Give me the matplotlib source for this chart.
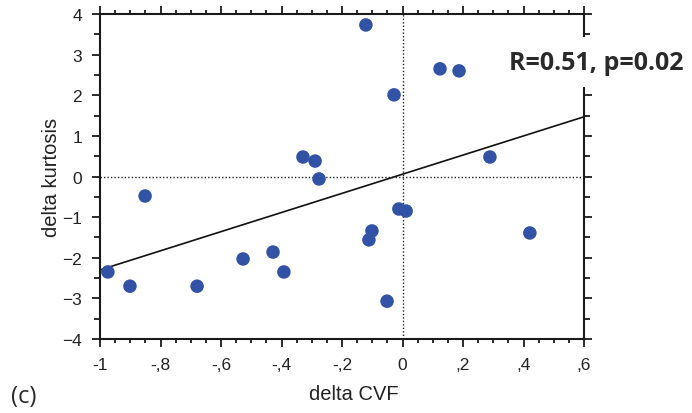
import numpy as np
import matplotlib
matplotlib.use("Agg")
import matplotlib.pyplot as plt
from matplotlib.ticker import MultipleLocator, FixedLocator

# delta CVF / delta kurtosis
delta_cvf = [-0.974, -0.901, -0.851, -0.679, -0.527, -0.428, -0.392, -0.329, -0.289,
             -0.276, -0.121, -0.101, -0.111, -0.051, -0.028, -0.012, 0.012, 0.124,
             0.187, 0.289, 0.421]
delta_kurt = [-2.35, -2.70, -0.48, -2.70, -2.03, -1.86, -2.35, 0.48, 0.38,
              -0.06, 3.73, -1.34, -1.56, -3.07, 2.01, -0.80, -0.85, 2.65,
              2.60, 0.48, -1.39]

# regression line end points
fit_x = [-1.0, 0.6]
fit_y = [-2.30, 1.47]

x_ticks = [-1, -0.8, -0.6, -0.4, -0.2, 0, 0.2, 0.4, 0.6]
x_ticklabels = ["-1", "-,8", "-,6", "-,4", "-,2", "0", ",2", ",4", ",6"]
y_ticks = [-4, -3, -2, -1, 0, 1, 2, 3, 4]
stat_text = "R=0.51, p=0.02"

plt.rcParams['font.family'] = ['Liberation Sans', 'DejaVu Sans']

fig = plt.figure(figsize=(6.92, 4.14), dpi=100)
ax = fig.add_axes([100 / 692, 74 / 414, 484 / 692, 325 / 414])

ax.axhline(0, color='#222222', lw=1.0, ls=(0, (1, 1.5)), zorder=1)
ax.axvline(0, color='#222222', lw=1.0, ls=(0, (1, 1.5)), zorder=1)
ax.plot(fit_x, fit_y, color='#111111', lw=1.2, zorder=2)
ax.scatter(delta_cvf, delta_kurt, s=95, color='#3253a5', edgecolors='none', zorder=3)

ax.set_xlim(-1, 0.6)
ax.set_ylim(-4, 4)
ax.xaxis.set_major_locator(FixedLocator(x_ticks))
ax.set_xticklabels(x_ticklabels)
ax.xaxis.set_minor_locator(MultipleLocator(0.05))
ax.yaxis.set_major_locator(FixedLocator(y_ticks))
ax.yaxis.set_minor_locator(MultipleLocator(0.5))

for s in ax.spines.values():
    s.set_linewidth(1.5)
    s.set_color('#1a1a1a')
ax.tick_params(which='both', direction='out', top=True, right=True,
               color='#1a1a1a', width=1.3, labelsize=12.5, labelcolor='#222222')
ax.tick_params(which='major', length=6, pad=7)
ax.tick_params(which='minor', length=3)
ax.tick_params(axis='y', which='minor', length=4)

ax.set_xlabel("delta CVF", fontsize=14.5, color='#222222')
ax.set_ylabel("delta kurtosis", fontsize=14.5, color='#222222')
ax.xaxis.set_label_coords(0.525, -0.14)
ax.yaxis.set_label_coords(-0.08, 0.5)

fig.text(596 / 692, 351 / 414, stat_text, fontsize=18, fontweight='bold',
         family='Open Sans', color='#2a2a2a', ha='center', va='center',
         bbox=dict(facecolor='white', edgecolor='none', pad=9), zorder=10)
fig.text(11 / 692, 17 / 414, "(c)", fontsize=17, family='Open Sans',
         color='#2a2a2a', ha='left', va='center')

fig.savefig("out.png", dpi=100)
